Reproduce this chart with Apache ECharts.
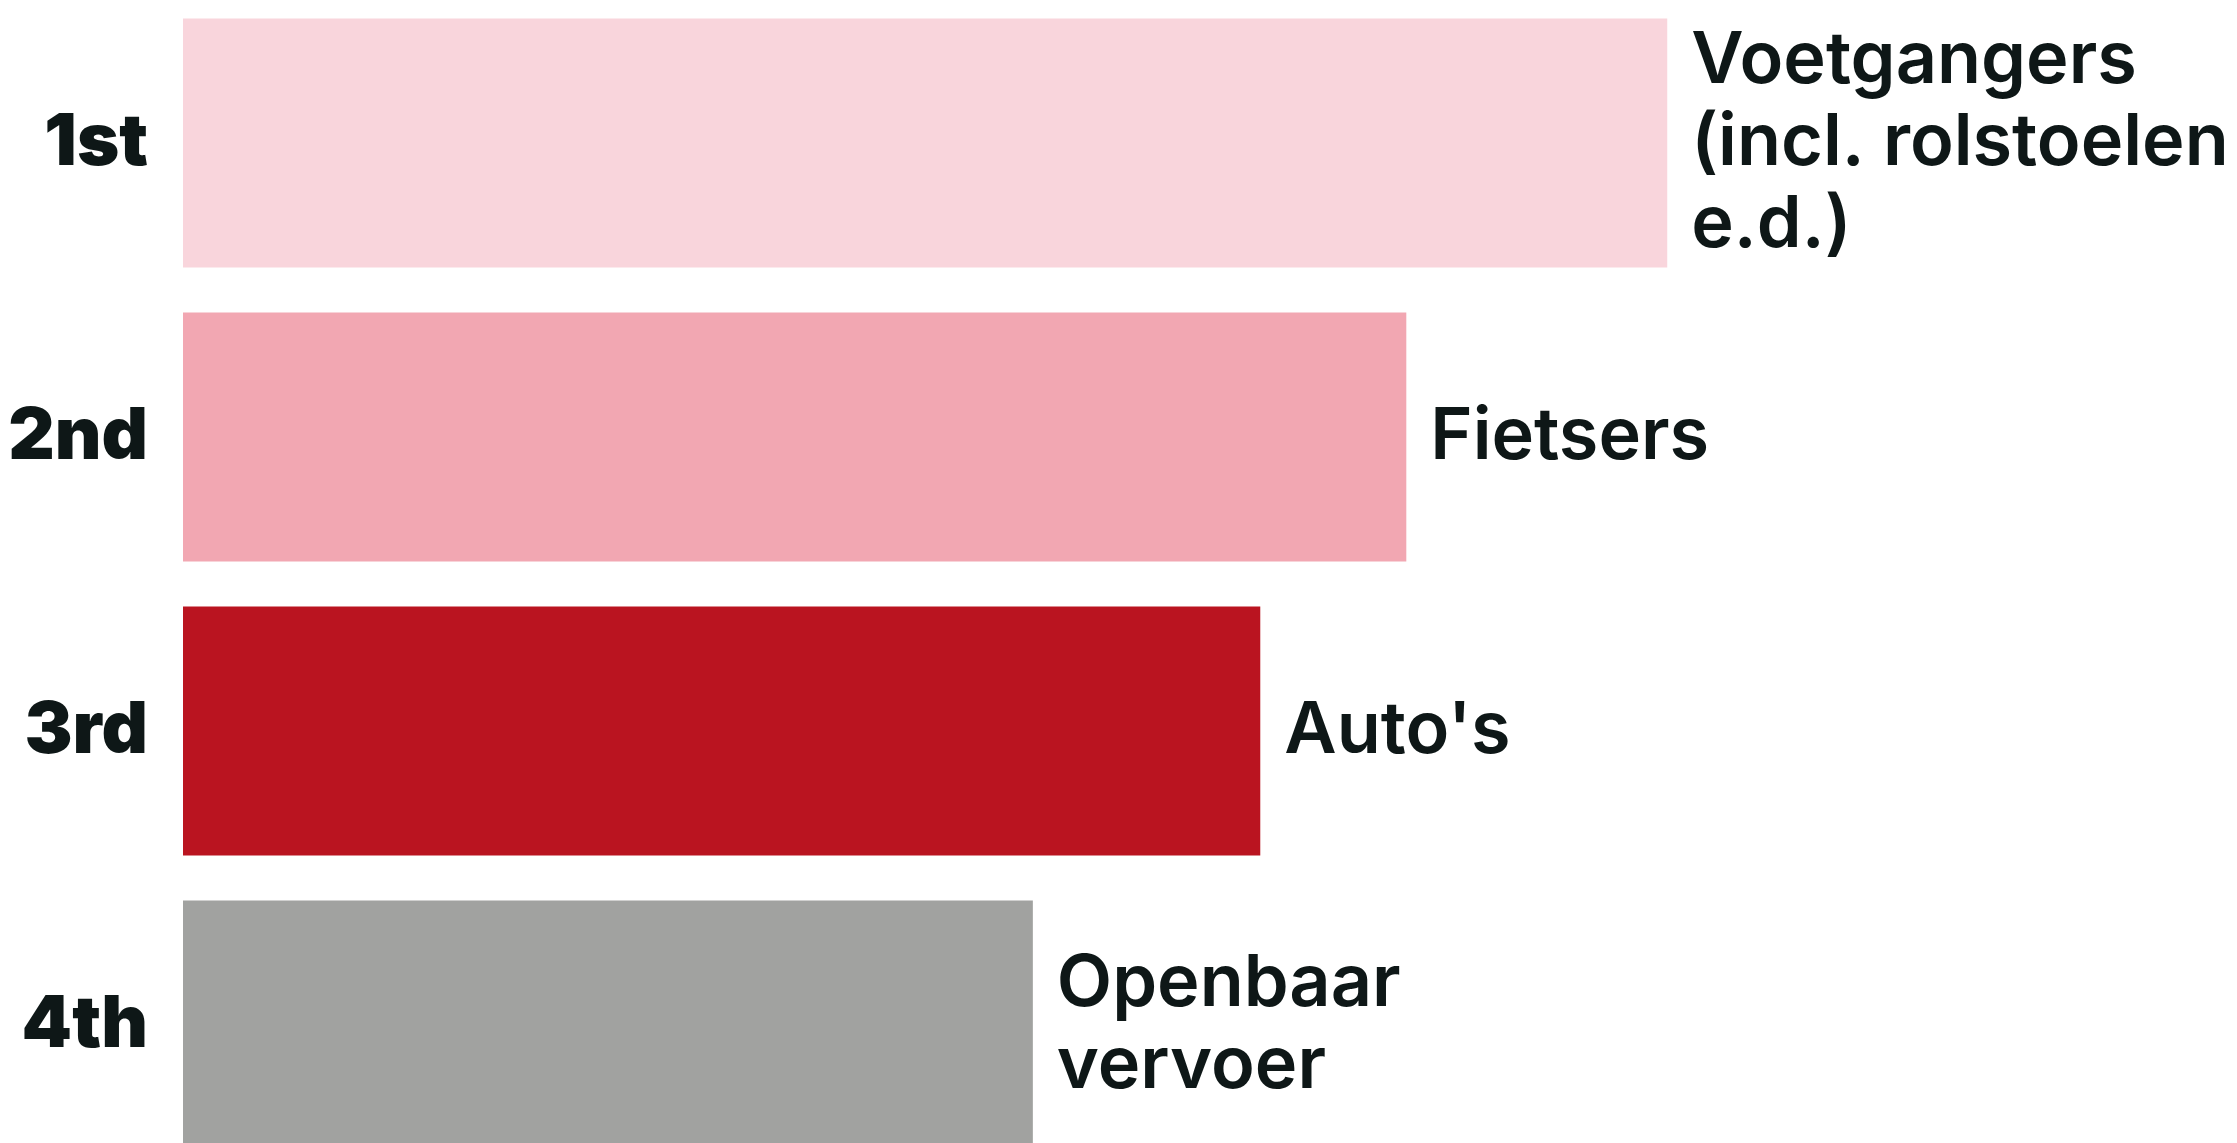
<!DOCTYPE html>
<html>
<head>
<meta charset="utf-8">
<script src="https://cdn.jsdelivr.net/npm/echarts@6/dist/echarts.min.js"></script>
<style>
html,body{margin:0;padding:0;background:#ffffff;overflow:hidden;width:2237px;height:1143px;}
#chart{position:absolute;left:0;top:-4px;width:2237px;height:1176px;}
</style>
</head>
<body>
<div id="chart"></div>
<script>
// Data
var ranks = ['1st', '2nd', '3rd', '4th'];
var groups = ['Voetgangers\n(incl. rolstoelen\ne.d.)', 'Fietsers', "Auto's", 'Openbaar\nvervoer'];
var values = [62, 51.1, 45, 35.5];
var colors = ['#f9d5dc', '#f2a7b2', '#ba1420', '#a1a2a0'];

var chart = echarts.init(document.getElementById('chart'), null, {renderer: 'canvas'});
var seriesData = values.map(function (v, i) {
  return {
    value: v,
    itemStyle: {color: colors[i]},
    label: {formatter: groups[i]}
  };
});
chart.setOption({
  animation: false,
  backgroundColor: '#ffffff',
  grid: {left: 183, top: 0, width: 2054, height: 1176, containLabel: false},
  xAxis: {
    type: 'value', min: 0, max: 85.8,
    show: false
  },
  yAxis: {
    type: 'category', data: ranks, inverse: true,
    axisLine: {show: false}, axisTick: {show: false}, splitLine: {show: false},
    axisLabel: {
      margin: 35,
      color: '#0e1717',
      fontFamily: 'Inter',
      fontWeight: 900,
      fontSize: 72
    }
  },
  series: [{
    type: 'bar',
    data: seriesData,
    barWidth: 249,
    label: {
      show: true,
      position: 'right',
      distance: 24,
      color: '#0e1717',
      fontFamily: 'Inter',
      fontWeight: 600,
      fontSize: 72,
      lineHeight: 82,
      align: 'left',
      verticalAlign: 'middle'
    }
  }]
});
</script>
</body>
</html>
